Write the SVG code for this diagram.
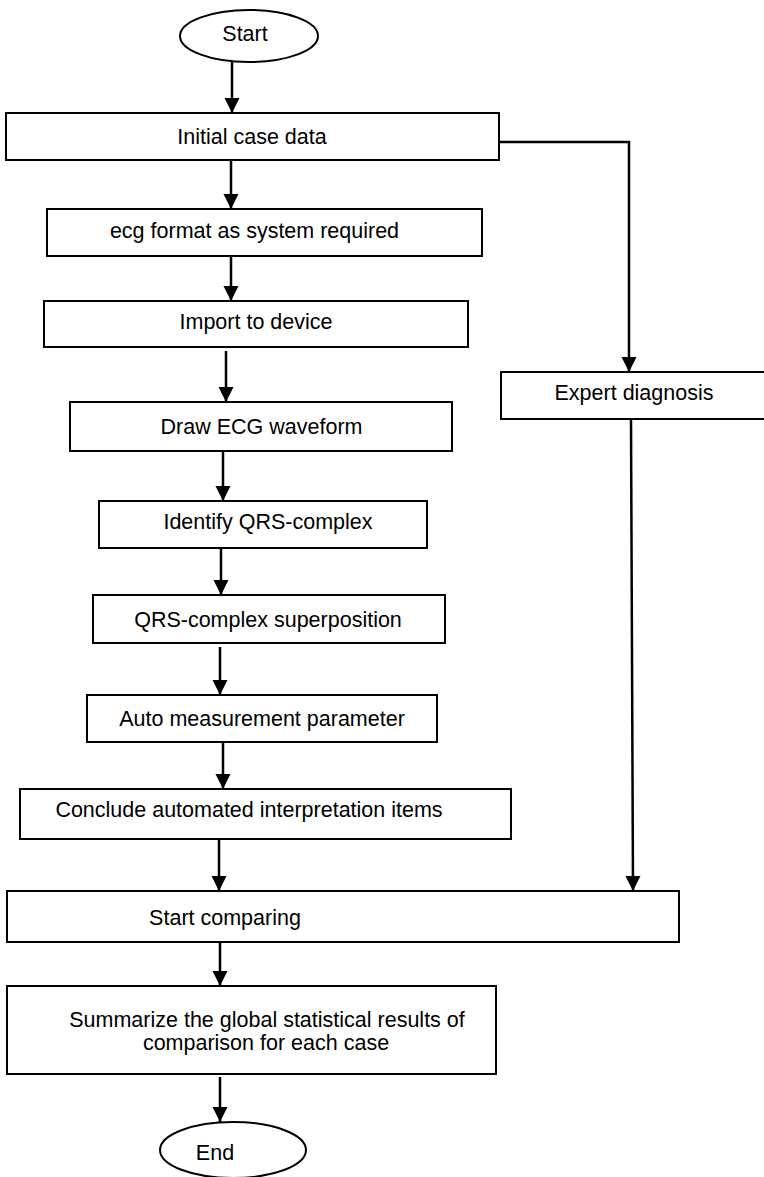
<svg xmlns="http://www.w3.org/2000/svg" width="764" height="1177" viewBox="0 0 764 1177">
<style>
.box{fill:#fff;stroke:#000;stroke-width:2}
.t{font-family:"Liberation Sans",Arial,sans-serif;font-size:21.5px;fill:#000;text-anchor:middle}
.c{fill:none;stroke:#000;stroke-width:2.5}
</style>
<defs>
<marker id="ah" markerUnits="userSpaceOnUse" markerWidth="16" markerHeight="16" viewBox="0 0 16 16" refX="15" refY="8" orient="auto">
<path d="M0,0.5 L15,8 L0,15.5 Z" fill="#000"/>
</marker>
</defs>
<rect width="764" height="1177" fill="#fff"/>
<g id="connectors">
<line class="c" x1="232" y1="62" x2="232" y2="113" marker-end="url(#ah)"/>
<polyline class="c" points="499,142 629,142 629,372" marker-end="url(#ah)"/>
<line class="c" x1="231" y1="160" x2="231" y2="209" marker-end="url(#ah)"/>
<line class="c" x1="231" y1="256" x2="231" y2="301" marker-end="url(#ah)"/>
<line class="c" x1="226" y1="351" x2="226" y2="402" marker-end="url(#ah)"/>
<line class="c" x1="223" y1="452" x2="223" y2="501" marker-end="url(#ah)"/>
<line class="c" x1="221" y1="548" x2="221" y2="595" marker-end="url(#ah)"/>
<line class="c" x1="220" y1="647" x2="220" y2="695" marker-end="url(#ah)"/>
<line class="c" x1="223" y1="742" x2="223" y2="789" marker-end="url(#ah)"/>
<line class="c" x1="219" y1="839" x2="219" y2="891" marker-end="url(#ah)"/>
<line class="c" x1="631" y1="419" x2="633" y2="891" marker-end="url(#ah)"/>
<line class="c" x1="220" y1="942" x2="220" y2="986" marker-end="url(#ah)"/>
<line class="c" x1="220" y1="1077" x2="220" y2="1122" marker-end="url(#ah)"/>
</g>
<g id="start"><ellipse class="box" cx="249" cy="36" rx="69" ry="26"/><text class="t" x="245" y="41">Start</text></g>
<g id="initial"><rect class="box" x="6" y="113" width="493" height="47"/><text class="t" x="252" y="144">Initial case data</text></g>
<g id="expert"><rect class="box" x="501" y="372" width="270" height="47"/><text class="t" x="634" y="400">Expert diagnosis</text></g>
<g id="ecgformat"><rect class="box" x="47" y="209" width="435" height="47"/><text class="t" x="254.5" y="238">ecg format as system required</text></g>
<g id="import"><rect class="box" x="44" y="301" width="424" height="46"/><text class="t" x="256" y="329">Import to device</text></g>
<g id="draw"><rect class="box" x="70" y="402" width="382" height="49"/><text class="t" x="261.5" y="434">Draw ECG waveform</text></g>
<g id="identify"><rect class="box" x="99" y="501" width="328" height="47"/><text class="t" x="268" y="529">Identify QRS-complex</text></g>
<g id="superpose"><rect class="box" x="93" y="595" width="352" height="48"/><text class="t" x="268" y="627">QRS-complex superposition</text></g>
<g id="auto"><rect class="box" x="87" y="695" width="350" height="47"/><text class="t" x="262" y="726">Auto measurement parameter</text></g>
<g id="conclude"><rect class="box" x="20" y="789" width="491" height="50"/><text class="t" x="249" y="817">Conclude automated interpretation items</text></g>
<g id="compare"><rect class="box" x="7" y="891" width="672" height="51"/><text class="t" x="225" y="925">Start comparing</text></g>
<g id="summarize"><rect class="box" x="7" y="986" width="489" height="88"/><text class="t" x="267" y="1027">Summarize the global statistical results of</text><text class="t" x="266" y="1050">comparison for each case</text></g>
<g id="end"><ellipse class="box" cx="233" cy="1150" rx="73" ry="28"/><text class="t" x="215" y="1160">End</text></g>
</svg>
